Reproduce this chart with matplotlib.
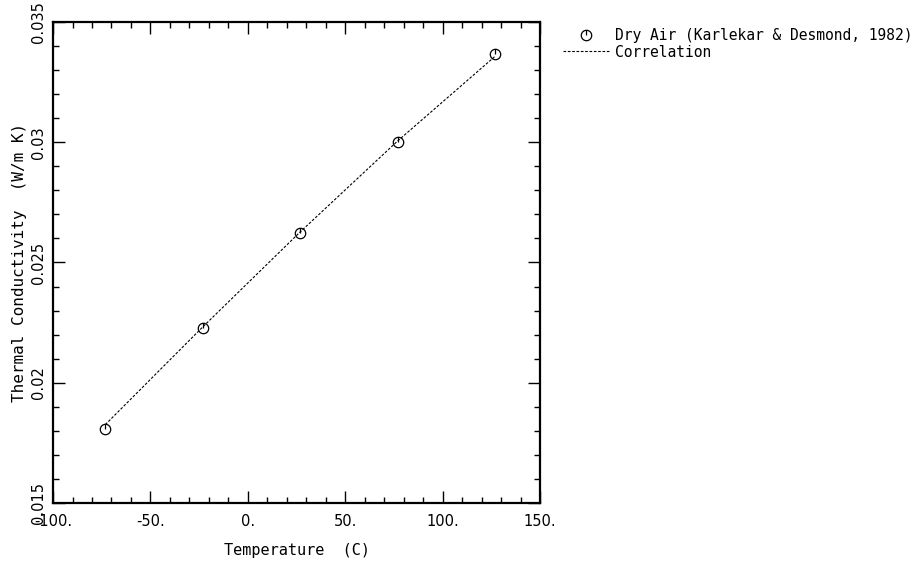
import matplotlib
matplotlib.use("Agg")
import matplotlib.pyplot as plt
import matplotlib.path as mpath
import numpy as np

# data: temperature (C) vs thermal conductivity (W/m K)
temp_c = [-73.15, -23.15, 26.85, 76.85, 126.85]
k_meas = [0.01809, 0.02227, 0.02624, 0.03003, 0.03365]
k_corr = [0.01826, 0.02232, 0.02627, 0.03005, 0.03357]

xticks = [-100, -50, 0, 50, 100, 150]
xticklabels = ["-100.", "-50.", "0.", "50.", "100.", "150."]
yticks = [0.015, 0.02, 0.025, 0.03, 0.035]
yticklabels = ["0.015", "0.02", "0.025", "0.03", "0.035"]

plt.rcParams['font.family'] = ['DejaVu Sans']
mono = ['DejaVu Sans Mono', 'DejaVu Sans']
tick_fs = 10.5

# circle with a little stroke from centre to top (dataplot style)
circ = mpath.Path.unit_circle()
stroke = mpath.Path([(0, 0), (0, 1)], [mpath.Path.MOVETO, mpath.Path.LINETO])
mark = mpath.Path.make_compound_path(circ, stroke)

fig = plt.figure(figsize=(9.19, 5.61), dpi=100)
ax = fig.add_axes([0.0577, 0.1034, 0.530, 0.8574])

ax.plot(temp_c, k_meas, linestyle="none", marker=mark, markersize=7.5,
        markerfacecolor="none", markeredgecolor="black", markeredgewidth=0.9,
        label="Dry Air (Karlekar & Desmond, 1982)")
ax.plot(temp_c, k_corr, color="black", linestyle=(0, (2.4, 1.5)), linewidth=0.8,
        label="Correlation")

ax.set_xlim(-100, 150)
ax.set_ylim(0.015, 0.035)
ax.set_xticks(xticks)
ax.set_xticklabels(xticklabels, fontsize=tick_fs)
ax.set_yticks(yticks)
ax.set_yticklabels(yticklabels, fontsize=tick_fs, rotation=90, va="center")
ax.set_xticks(np.arange(-100, 151, 10), minor=True)
ax.set_yticks(np.arange(0.015, 0.0351, 0.001), minor=True)
ax.tick_params(which="both", direction="in", top=True, right=True, width=1.0)
ax.tick_params(which="major", length=8.5)
ax.tick_params(which="minor", length=4.3)
ax.tick_params(axis="x", pad=8)
ax.tick_params(axis="y", pad=5)
for s in ax.spines.values():
    s.set_linewidth(1.6)

ax.set_xlabel("Temperature  (C)", fontsize=11, family=mono, labelpad=10)
ax.set_ylabel("Thermal Conductivity  (W/m K)", fontsize=11.5, family=mono, labelpad=3)

ax.legend(loc="upper left", bbox_to_anchor=(1.035, 1.0), frameon=False,
          prop={"family": mono, "size": 10.5}, handlelength=3.15,
          handletextpad=0.45, labelspacing=0.12, borderaxespad=0)

fig.savefig("out.png", dpi=100)
